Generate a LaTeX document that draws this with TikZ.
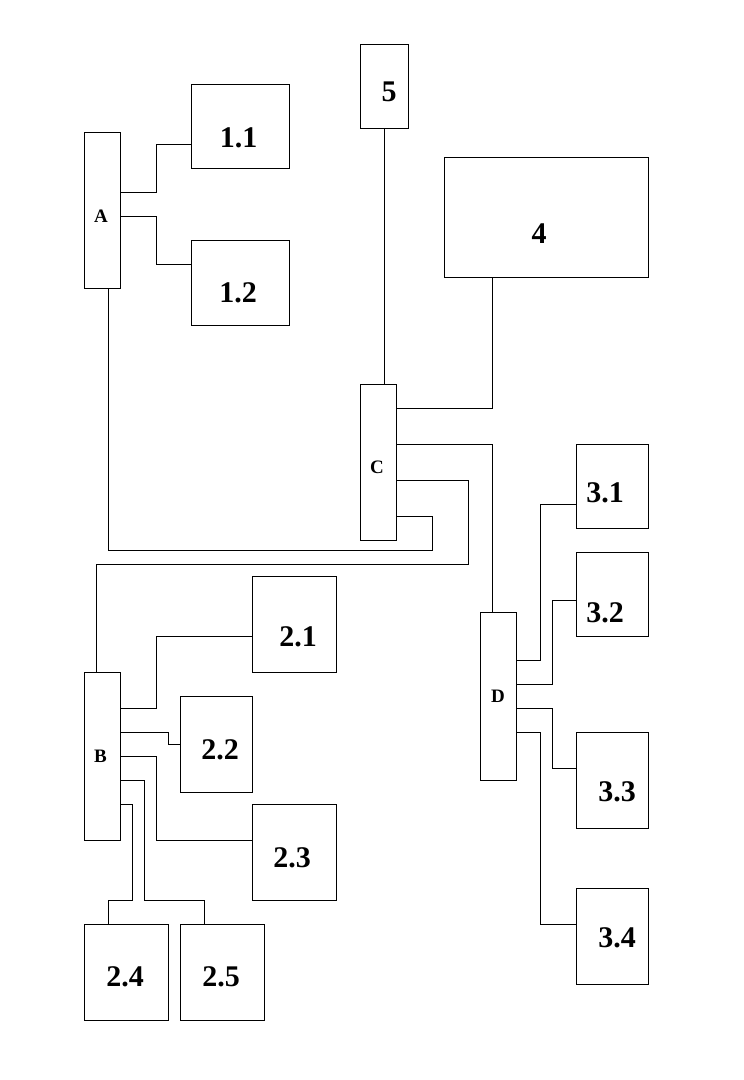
\documentclass[tikz,border=0pt]{standalone}
\usepackage{fontspec}
\setmainfont{Liberation Serif}
\begin{document}
\begin{tikzpicture}[x=1pt,y=-1pt,
  box/.style={draw, rectangle, line width=0.8pt, inner sep=0pt, outer sep=0pt, fill=white},
  num/.style={font=\fontsize{30}{30}\selectfont\bfseries, inner sep=0pt},
  let/.style={font=\fontsize{19}{19}\selectfont\bfseries, inner sep=0pt},
  wire/.style={line width=0.8pt}]
\useasboundingbox (0,0) rectangle (744,1080);
% boxes
\node[box, minimum width=36pt, minimum height=156pt, label={[let,xshift=-1pt,yshift=-6pt]center:A}] (A) at (102,210) {};
\node[box, minimum width=98pt, minimum height=84pt, label={[num,xshift=-1.5pt,yshift=-12pt]center:1.1}] (n11) at (240,126) {};
\node[box, minimum width=98pt, minimum height=85pt, label={[num,xshift=-2pt,yshift=-10.5pt]center:1.2}] (n12) at (240,282.5) {};
\node[box, minimum width=48pt, minimum height=84pt, label={[num,xshift=5pt,yshift=-6pt]center:5}] (n5) at (384,86) {};
\node[box, minimum width=204pt, minimum height=120pt, label={[num,xshift=-7pt,yshift=-17pt]center:4}] (n4) at (546,217) {};
\node[box, minimum width=36pt, minimum height=156pt, label={[let,xshift=-1pt,yshift=-5.5pt]center:C}] (C) at (378,462) {};
\node[box, minimum width=36pt, minimum height=168pt, label={[let,xshift=-1.5pt,yshift=0pt]center:B}] (B) at (102,756) {};
\node[box, minimum width=84pt, minimum height=96pt, label={[num,xshift=4pt,yshift=-13pt]center:2.1}] (n21) at (294,624) {};
\node[box, minimum width=72pt, minimum height=96pt, label={[num,xshift=4pt,yshift=-6pt]center:2.2}] (n22) at (216,744) {};
\node[box, minimum width=84pt, minimum height=96pt, label={[num,xshift=-2pt,yshift=-6pt]center:2.3}] (n23) at (294,852) {};
\node[box, minimum width=84pt, minimum height=96pt, label={[num,xshift=-1pt,yshift=-5pt]center:2.4}] (n24) at (126,972) {};
\node[box, minimum width=84pt, minimum height=96pt, label={[num,xshift=-1pt,yshift=-5pt]center:2.5}] (n25) at (222,972) {};
\node[box, minimum width=36pt, minimum height=168pt, label={[let,xshift=0pt,yshift=0pt]center:D}] (D) at (498,696) {};
\node[box, minimum width=72pt, minimum height=84pt, label={[num,xshift=-7pt,yshift=-7pt]center:3.1}] (n31) at (612,486) {};
\node[box, minimum width=72pt, minimum height=84pt, label={[num,xshift=-7pt,yshift=-19pt]center:3.2}] (n32) at (612,594) {};
\node[box, minimum width=72pt, minimum height=96pt, label={[num,xshift=5pt,yshift=-12pt]center:3.3}] (n33) at (612,780) {};
\node[box, minimum width=72pt, minimum height=96pt, label={[num,xshift=5pt,yshift=-1.5pt]center:3.4}] (n34) at (612,936) {};
% connectors A
\draw[wire] (A.east |- 0,192) -| (156,144) -- (n11.west |- 0,144);
\draw[wire] (A.east |- 0,216) -| (156,264) -- (n12.west |- 0,264);
\draw[wire] (108,0 |- A.south) -- (108,550) -| (432,516) -- (C.east |- 0,516);
% connectors C
\draw[wire] (384,0 |- n5.south) -- (384,0 |- C.north);
\draw[wire] (C.east |- 0,408) -| (492,0 |- n4.south);
\draw[wire] (C.east |- 0,444) -| (492,0 |- D.north);
\draw[wire] (C.east |- 0,480) -| (468,564) -| (96,0 |- B.north);
% connectors B
\draw[wire] (B.east |- 0,708) -| (156,636) -- (n21.west |- 0,636);
\draw[wire] (B.east |- 0,732) -| (168,744) -- (n22.west |- 0,744);
\draw[wire] (B.east |- 0,756) -| (156,840) -- (n23.west |- 0,840);
\draw[wire] (B.east |- 0,780) -| (144,900) -| (204,0 |- n25.north);
\draw[wire] (B.east |- 0,804) -| (132,900) -| (108,0 |- n24.north);
% connectors D
\draw[wire] (D.east |- 0,660) -| (540,504) -- (n31.west |- 0,504);
\draw[wire] (D.east |- 0,684) -| (552,600) -- (n32.west |- 0,600);
\draw[wire] (D.east |- 0,708) -| (552,768) -- (n33.west |- 0,768);
\draw[wire] (D.east |- 0,732) -| (540,924) -- (n34.west |- 0,924);
\end{tikzpicture}
\end{document}
